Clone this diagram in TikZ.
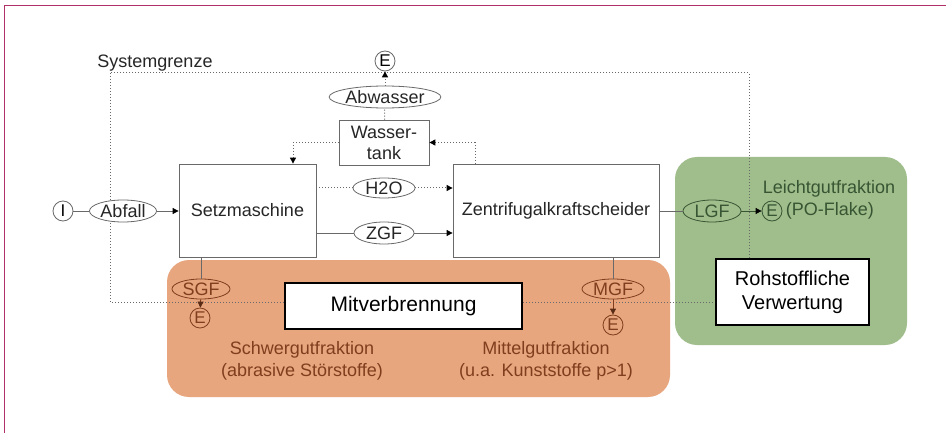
\documentclass[tikz,border=0pt]{standalone}
\usepackage{fontspec}
\setmainfont{Liberation Sans}
\usetikzlibrary{arrows.meta,shapes.geometric}
\definecolor{frame}{RGB}{176,48,104}
\definecolor{orangebg}{RGB}{232,166,126}
\definecolor{greenbg}{RGB}{160,190,140}
\definecolor{browntxt}{RGB}{128,62,30}
\definecolor{greentxt}{RGB}{55,85,50}
\definecolor{linegray}{RGB}{105,105,105}
\tikzset{
  lbl/.style={font=\fontsize{18}{20}\selectfont, text=black!85},
  procbox/.style={draw=linegray, line width=0.8pt, fill=white, inner sep=0pt, lbl, align=center},
  bigbox/.style={draw=black, line width=2pt, fill=white, inner sep=0pt, align=center},
  flow/.style={ellipse, draw=linegray, line width=0.8pt, fill=white, inner sep=0pt, lbl},
  term/.style={circle, draw=linegray, line width=0.8pt, fill=white, inner sep=0pt, minimum size=20pt, font=\fontsize{17}{18}\selectfont},
  conn/.style={draw=linegray, line width=0.8pt},
  dconn/.style={draw=linegray, line width=1pt, dotted},
  tip/.style={-{Triangle[length=6pt,width=6pt,color=black]}},
  btip/.style={-{Triangle[length=6pt,width=6pt,color=browntxt!70!black]}},
}
\begin{document}
\begin{tikzpicture}[x=1pt,y=-1pt]
\useasboundingbox (0,0) rectangle (946,433);
\fill[white] (0,0) rectangle (946,433);
% frame
\draw[frame, line width=1.5pt] (4.5,433) -- (4.5,5.5) -- (946,5.5);
% regions
\fill[greenbg, rounded corners=22pt] (675,157) rectangle (907,345);
\fill[orangebg, rounded corners=22pt] (167,260) rectangle (670,397);
% system boundary
\draw[dconn] (110,73) rectangle (749,302);
\node[lbl, anchor=center] (sg) at (155,63) {Systemgrenze};
% process boxes
\node[procbox, minimum width=137pt, minimum height=93pt] (setz) at (247.5,210.5) {Setzmaschine};
\node[procbox, minimum width=206pt, minimum height=93pt] (zent) at (556,210.5) {Zentrifugalkraftscheider};
\node[procbox, minimum width=90pt, minimum height=45pt, font=\fontsize{18}{21}\selectfont] (tank) at (384,142.5) {Wasser-\\tank};
\node[bigbox, minimum width=237pt, minimum height=46pt, font=\fontsize{21}{24}\selectfont] (mit) at (403.5,306) {Mitverbrennung};
\node[bigbox, minimum width=153pt, minimum height=66pt, font=\fontsize{20}{24}\selectfont] (roh) at (792.5,292) {Rohstoffliche\\Verwertung};
% flows
\node[flow, minimum width=104pt, minimum height=22pt] (abw) at (385,97) {Abwasser};
\node[flow, minimum width=62pt, minimum height=20pt] (h2o) at (384,188) {H2O};
\node[flow, minimum width=60pt, minimum height=22pt] (zgf) at (384,233) {ZGF};
\node[flow, minimum width=67pt, minimum height=22pt] (abf) at (123,211) {Abfall};
\node[flow, draw=greentxt, fill=greenbg, text=greentxt, minimum width=58pt, minimum height=22pt] (lgf) at (712,211) {LGF};
\node[flow, draw=browntxt, fill=orangebg, text=browntxt, minimum width=58pt, minimum height=20pt] (sgf) at (201,289) {SGF};
\node[flow, draw=browntxt, fill=orangebg, text=browntxt, minimum width=62pt, minimum height=20pt] (mgf) at (613,289) {MGF};
% terminals
\node[term] (i) at (63,211) {I};
\node[term] (etop) at (385,61) {E};
\node[term, draw=greentxt, fill=greenbg, text=greentxt] (elgf) at (772,211) {E};
\node[term, draw=browntxt, fill=orangebg, text=browntxt] (esgf) at (200,318) {E};
\node[term, draw=browntxt, fill=orangebg, text=browntxt] (emgf) at (613,325) {E};
% texts
\node[lbl, text=greentxt] (lgt) at (829,189) {Leichtgutfraktion};
\node[lbl, text=greentxt, anchor=west] (pof) at (elgf.east) {(PO-Flake)};
\node[lbl, text=browntxt, align=center, font=\fontsize{18}{22}\selectfont] (sgt) at (302,361) {Schwergutfraktion\\(abrasive Störstoffe)};
\node[lbl, text=browntxt, align=center, font=\fontsize{18}{22}\selectfont] (mgt) at (546,361) {Mittelgutfraktion\\(u.a. Kunststoffe p>1)};
% connectors
\draw[conn] (i) -- (abf);
\draw[conn, tip] (abf) -- (setz.west |- abf);
\draw[dconn] (tank) -- (abw);
\draw[dconn, tip] (abw) -- (etop);
\coordinate (tl) at (293,142.5);
\draw[dconn, tip] (tank.west) -- (tl) -- (tl |- setz.north);
\coordinate (tr) at (475,142.5);
\draw[dconn, tip] (tr |- zent.north) -- (tr) -- (tank.east);
\draw[dconn] (setz.east |- h2o) -- (h2o);
\draw[dconn, tip] (h2o) -- (zent.west |- h2o);
\draw[conn] (setz.east |- zgf) -- (zgf);
\draw[conn, tip] (zgf) -- (zent.west |- zgf);
\draw[conn] (zent.east |- lgf) -- (lgf);
\draw[conn, draw=greentxt, tip] (lgf) -- (elgf);
\draw[conn] (setz.south -| sgf) -- (sgf);
\draw[conn, draw=browntxt, btip] (sgf) -- (esgf);
\draw[conn] (zent.south -| mgf) -- (mgf);
\draw[conn, draw=browntxt, btip] (mgf) -- (emgf);
\end{tikzpicture}
\end{document}
